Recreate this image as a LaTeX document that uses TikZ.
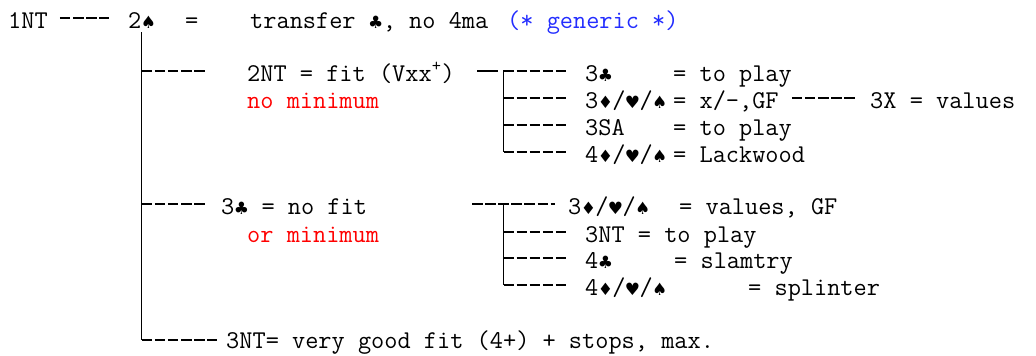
\documentclass[tikz,border=0pt]{standalone}
\usepackage{fontspec}
\usepackage{tikz}
\usepackage{xcolor}
\newfontfamily\suitfont{DejaVu Sans}
\definecolor{bidred}{RGB}{255, 0, 0}
\definecolor{bidblue}{RGB}{35, 45, 255}
\newcommand{\suit}[1]{\makebox[14pt]{\fontsize{17}{20}\suitfont #1}}

\begin{document}
\begin{tikzpicture}[x=1pt, y=-1pt,
    every node/.style={inner sep=0pt, anchor=base west, font=\fontsize{25.6}{30}\selectfont\ttfamily},
    trunk/.style={line width=1.2pt},
    dashline/.style={line width=1.2pt, dash pattern=on 10.5pt off 2.6pt},
    remark/.style={text=bidred}]
    \useasboundingbox (0,0) rectangle (1036,356);

    % heights of the dashed rows
    \coordinate (yA) at (0,18);
    \coordinate (yB) at (0,71);
    \coordinate (yC) at (0,98);
    \coordinate (yD) at (0,125);
    \coordinate (yE) at (0,152);
    \coordinate (yF) at (0,204);
    \coordinate (yG) at (0,232);
    \coordinate (yH) at (0,258);
    \coordinate (yI) at (0,285);
    \coordinate (yJ) at (0,340);

    % opening and relay
    \node (opening) at (8,28) {1NT};
    \node (relay) at (128,28) {2\suit{♠}};
    \node (relayeq) at (185,28) {=};
    \node (relaymean) at (250,28) {transfer \suit{♣}, no 4ma};
    \node[text=bidblue] (relaynote) at (507,28) {(* generic *)};

    % answers to the relay
    \node (fit) at (247,81) {2NT = fit (Vxx\textsuperscript{+})};
    \node[remark] (fitnote) at (247,108) {no minimum};
    \node (nofit) at (221,214) {3\suit{♣} = no fit};
    \node[remark] (nofitnote) at (247,242) {or minimum};
    \node (max) at (226,348) {3NT= very good fit (4+) + stops, max.};

    % after 2NT
    \node (fitclub) at (585,81) {3\suit{♣}};
    \node (fitclubeq) at (673,81) {= to play};
    \node (fitsuit) at (585,108) {3\suit{♦}/\suit{♥}/\suit{♠}};
    \node (fitsuiteq) at (673,108) {= x/-,GF};
    \node (values) at (870,108) {3X = values};
    \node (fitsa) at (585,135) {3SA};
    \node (fitsaeq) at (673,135) {= to play};
    \node (fitkey) at (585,162) {4\suit{♦}/\suit{♥}/\suit{♠}};
    \node (fitkeyeq) at (673,162) {= Lackwood};

    % after 3C
    \node (nfsuit) at (568,214) {3\suit{♦}/\suit{♥}/\suit{♠}};
    \node (nfsuiteq) at (679,214) {= values, GF};
    \node (nfnt) at (585,242) {3NT = to play};
    \node (nfclub) at (585,268) {4\suit{♣}};
    \node (nfclubeq) at (674,268) {= slamtry};
    \node (nfsplit) at (585,295) {4\suit{♦}/\suit{♥}/\suit{♠}};
    \node (nfspliteq) at (748,295) {= splinter};

    % main tree
    \draw[dashline, shorten <=12pt, shorten >=19pt] (opening.east |- yA) -- (relay.west |- yA);
    \draw[trunk, shorten <=4pt] (relay.south) -- (relay.south |- yJ);
    \draw[dashline, shorten >=42pt] (relay.south |- yB) -- (fit.west |- yB);
    \draw[dashline, shorten >=16pt] (relay.south |- yF) -- (nofit.west |- yF);
    \draw[dashline, shorten >=9pt] (relay.south |- yJ) -- (max.west |- yJ);

    % subtree of 2NT
    \coordinate (fitin) at (477,71);
    \coordinate (fitjoin) at (503.5,71);
    \draw[line width=1.2pt, dash pattern=on 21pt off 5pt on 12pt off 3pt] (fitin) -- (fitjoin);
    \draw[dashline, shorten >=17pt] (fitjoin) -- (fitclub.west |- fitjoin);
    \draw[trunk] (fitjoin) -- (fitjoin |- yE);
    \foreach \r/\n in {yC/fitsuit, yD/fitsa, yE/fitkey}
      \draw[dashline, shorten >=17pt] (fitjoin |- \r) -- (\n.west |- \r);
    \draw[dashline, shorten <=13pt, shorten >=15pt] (fitsuiteq.east |- yC) -- (values.west |- yC);

    % subtree of 3C
    \coordinate (nofitin) at (472,204);
    \coordinate (nofitjoin) at (503.5,204);
    \draw[dashline, shorten >=13pt] (nofitin) -- (nfsuit.west |- nofitin);
    \draw[trunk] (nofitjoin) -- (nofitjoin |- yI);
    \foreach \r/\n in {yG/nfnt, yH/nfclub, yI/nfsplit}
      \draw[dashline, shorten >=17pt] (nofitjoin |- \r) -- (\n.west |- \r);
\end{tikzpicture}
\end{document}
